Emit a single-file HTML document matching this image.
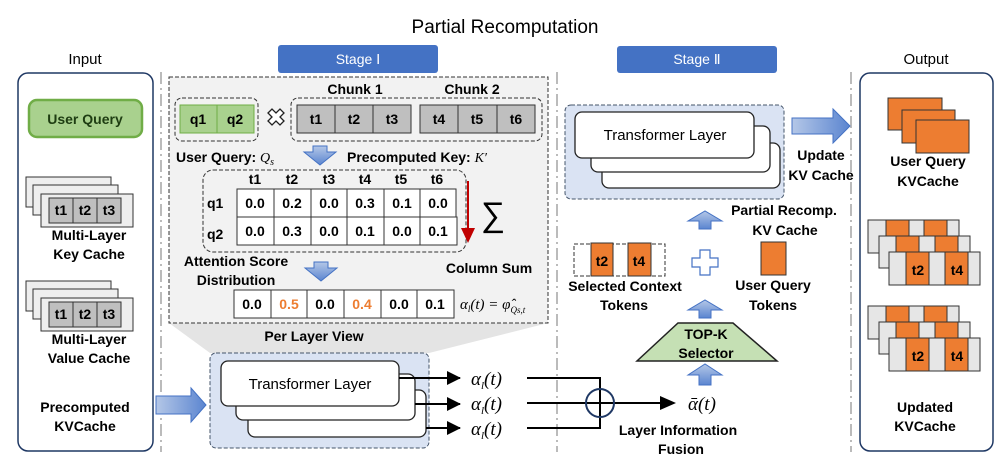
<!DOCTYPE html>
<html><head><meta charset="utf-8"><style>
body{margin:0;background:#fff}
svg{display:block}
text{font-family:"Liberation Sans",sans-serif}
.b{font-weight:bold;font-size:14px}
.c{text-anchor:middle}
.m{font-family:"Liberation Serif",serif;font-style:italic}
</style></head><body>
<svg width="996" height="476" viewBox="0 0 996 476" xmlns="http://www.w3.org/2000/svg">
<defs>
<linearGradient id="ba" x1="0" x2="1"><stop offset="0" stop-color="#b4c7e7"/><stop offset="1" stop-color="#5b85d0"/></linearGradient>
<linearGradient id="bd" x1="0" y1="0" x2="0" y2="1"><stop offset="0" stop-color="#b4c7e7"/><stop offset="1" stop-color="#5b85d0"/></linearGradient>
<marker id="ah" markerWidth="14" markerHeight="14" refX="13" refY="7" orient="auto" markerUnits="userSpaceOnUse"><path d="M0,0 L14,7 L0,14z" fill="#000"/></marker>
</defs>
<text x="505" y="33" class="c" font-size="19">Partial Recomputation</text>
<rect x="278" y="45" width="160" height="28" rx="3" fill="#4472c4"/>
<text x="358" y="64" class="c" font-size="14" fill="#fff">Stage Ⅰ</text>
<rect x="617" y="46" width="160" height="27" rx="3" fill="#4472c4"/>
<text x="697" y="64" class="c" font-size="14" fill="#fff">Stage Ⅱ</text>
<text x="85" y="64" class="c" font-size="15">Input</text>
<text x="926" y="64" class="c" font-size="15">Output</text>
<line x1="161" y1="72" x2="161" y2="452" stroke="#bbb" stroke-width="2" stroke-dasharray="12,4,2,4"/>
<line x1="557" y1="72" x2="557" y2="452" stroke="#bbb" stroke-width="2" stroke-dasharray="12,4,2,4"/>
<line x1="851" y1="72" x2="851" y2="452" stroke="#bbb" stroke-width="2" stroke-dasharray="12,4,2,4"/>
<rect x="18" y="73" width="135" height="378" rx="10" fill="#fff" stroke="#1f3864" stroke-width="1.5"/>
<rect x="29" y="100" width="113" height="37" rx="8" fill="#a9d18e" stroke="#70ad47" stroke-width="2.5"/>
<text x="85" y="124" class="b c" fill="#1e3d12">User  Query</text>
<g id="ks">
<rect x="26" y="177" width="85" height="30" fill="#eee" stroke="#333"/>
<rect x="33" y="185" width="85" height="30" fill="#eee" stroke="#333"/>
<rect x="41" y="194" width="92" height="33" fill="#eee" stroke="#333"/>
<rect x="49" y="198" width="24" height="25" fill="#bfbfbf" stroke="#333"/>
<rect x="73" y="198" width="24" height="25" fill="#bfbfbf" stroke="#333"/>
<rect x="97" y="198" width="24" height="25" fill="#bfbfbf" stroke="#333"/>
<text x="61" y="215" class="b c">t1</text><text x="85" y="215" class="b c">t2</text><text x="109" y="215" class="b c">t3</text>
</g>
<use href="#ks" y="104"/>
<text x="89" y="240" class="b c" font-size="15">Multi-Layer</text>
<text x="89" y="259" class="b c" font-size="15">Key Cache</text>
<text x="89" y="344" class="b c" font-size="15">Multi-Layer</text>
<text x="89" y="363" class="b c" font-size="15">Value Cache</text>
<text x="85" y="412" class="b c" font-size="15">Precomputed</text>
<text x="85" y="431" class="b c" font-size="15">KVCache</text>
<path d="M156,396 H191 V388 L206,405 L191,422 V414 H156z" fill="url(#ba)" stroke="#4472c4"/>
<path d="M169,323 H548 L429,353 H210z" fill="#e4e4e4"/>
<text x="314" y="341" class="b c">Per Layer View</text>
<rect x="169" y="77" width="379" height="246" fill="#f2f2f2" stroke="#333" stroke-dasharray="4,2"/>
<rect x="175" y="98" width="83" height="43" rx="7" fill="none" stroke="#333" stroke-dasharray="4,2"/>
<rect x="180" y="105" width="37" height="28" fill="#a9d18e" stroke="#70ad47"/>
<rect x="217" y="105" width="37" height="28" fill="#a9d18e" stroke="#70ad47"/>
<text x="198" y="124" class="b c">q1</text><text x="235" y="124" class="b c">q2</text>
<path d="M268,113 l4,-4 l4,4 l4,-4 l4,4 l-4,4 l4,4 l-4,4 l-4,-4 l-4,4 l-4,-4 l4,-4z" fill="#fff" stroke="#222" stroke-width="1.3"/>
<rect x="291" y="98" width="251" height="43" rx="7" fill="none" stroke="#333" stroke-dasharray="4,2"/>
<g fill="#bfbfbf" stroke="#333">
<rect x="297" y="105" width="38" height="28"/><rect x="335" y="105" width="38" height="28"/><rect x="373" y="105" width="38" height="28"/>
<rect x="420" y="105" width="38" height="28"/><rect x="458" y="105" width="39" height="28"/><rect x="497" y="105" width="38" height="28"/>
</g>
<text x="316" y="124" class="b c">t1</text><text x="354" y="124" class="b c">t2</text><text x="392" y="124" class="b c">t3</text>
<text x="439" y="124" class="b c">t4</text><text x="477" y="124" class="b c">t5</text><text x="516" y="124" class="b c">t6</text>
<text x="355" y="94" class="b c" font-size="15">Chunk 1</text>
<text x="472" y="94" class="b c" font-size="15">Chunk 2</text>
<text x="176" y="162" class="b" font-size="15">User Query: <tspan class="m" font-weight="normal">Q</tspan><tspan class="m" font-weight="normal" font-size="10" dy="3">s</tspan></text>
<path d="M313,146 h14 v6 h9 l-16,13 l-16,-13 h9z" fill="url(#bd)" stroke="#4472c4"/>
<text x="347" y="162" class="b" font-size="15">Precomputed Key: <tspan class="m" font-weight="normal">K′</tspan></text>
<rect x="203" y="170" width="263" height="82" rx="10" fill="none" stroke="#333" stroke-dasharray="4,2"/>
<text x="255" y="184" class="b c">t1</text><text x="292" y="184" class="b c">t2</text><text x="329" y="184" class="b c">t3</text><text x="365" y="184" class="b c">t4</text><text x="401" y="184" class="b c">t5</text><text x="437" y="184" class="b c">t6</text>
<text x="207" y="208" class="b">q1</text><text x="207" y="239" class="b">q2</text>
<g fill="#fff" stroke="#333">
<rect x="237" y="189" width="37" height="28"/><rect x="274" y="189" width="37" height="28"/><rect x="311" y="189" width="36" height="28"/><rect x="347" y="189" width="37" height="28"/><rect x="384" y="189" width="36" height="28"/><rect x="420" y="189" width="36" height="28"/>
<rect x="237" y="217" width="37" height="28"/><rect x="274" y="217" width="37" height="28"/><rect x="311" y="217" width="36" height="28"/><rect x="347" y="217" width="37" height="28"/><rect x="384" y="217" width="36" height="28"/><rect x="420" y="217" width="37" height="28"/>
</g>
<text x="255" y="208" class="b c">0.0</text><text x="292" y="208" class="b c">0.2</text><text x="329" y="208" class="b c">0.0</text><text x="365" y="208" class="b c">0.3</text><text x="402" y="208" class="b c">0.1</text><text x="438" y="208" class="b c">0.0</text>
<text x="255" y="236" class="b c">0.0</text><text x="292" y="236" class="b c">0.3</text><text x="329" y="236" class="b c">0.0</text><text x="365" y="236" class="b c">0.1</text><text x="402" y="236" class="b c">0.0</text><text x="438" y="236" class="b c">0.1</text>
<line x1="468" y1="181" x2="468" y2="230" stroke="#c00000" stroke-width="2"/>
<path d="M461,228 h14 l-7,15z" fill="#c00000"/>
<text x="493" y="226" class="c" font-size="34" font-family="Liberation Serif">∑</text>
<text x="236" y="266" class="b c" font-size="15">Attention Score</text>
<text x="236" y="285" class="b c" font-size="15">Distribution</text>
<path d="M314,262 h14 v6 h9 l-16,13 l-16,-13 h9z" fill="url(#bd)" stroke="#4472c4"/>
<text x="489" y="273" class="b c" font-size="15">Column Sum</text>
<g fill="#fff" stroke="#333">
<rect x="234" y="290" width="37" height="28"/><rect x="271" y="290" width="36" height="28"/><rect x="307" y="290" width="37" height="28"/><rect x="344" y="290" width="37" height="28"/><rect x="381" y="290" width="36" height="28"/><rect x="417" y="290" width="37" height="28"/>
</g>
<text x="252" y="309" class="b c">0.0</text><text x="289" y="309" class="b c" fill="#ed7d31">0.5</text><text x="325" y="309" class="b c">0.0</text><text x="362" y="309" class="b c" fill="#ed7d31">0.4</text><text x="399" y="309" class="b c">0.0</text><text x="435" y="309" class="b c">0.1</text>
<text x="460" y="309" font-size="15" class="m">α<tspan font-size="9" dy="3">l</tspan><tspan dy="-3">(t) = φ̂</tspan><tspan font-size="9" dy="4">Qs,t</tspan></text>
<rect x="210" y="353" width="219" height="95" rx="6" fill="#dae3f3" stroke="#44546a" stroke-dasharray="4,2"/>
<rect x="248" y="390" width="178" height="47" rx="7" fill="#fff" stroke="#222" stroke-width="1.3"/>
<rect x="236" y="374" width="179" height="46" rx="7" fill="#fff" stroke="#222" stroke-width="1.3"/>
<rect x="221" y="361" width="178" height="45" rx="7" fill="#fff" stroke="#222" stroke-width="1.3"/>
<text x="310" y="389" class="c" font-size="15">Transformer Layer</text>
<g stroke="#000" stroke-width="2">
<line x1="399" y1="378" x2="460" y2="378" marker-end="url(#ah)"/>
<line x1="415" y1="404" x2="460" y2="404" marker-end="url(#ah)"/>
<line x1="426" y1="428" x2="460" y2="428" marker-end="url(#ah)"/>
<path d="M527,378 H600 V428 H527 M527,403 H670" fill="none"/>
</g>
<path d="M660,396 L676,403 L660,410z" fill="#000"/>
<circle cx="600" cy="403" r="14" fill="none" stroke="#1f3864" stroke-width="2"/>
<text x="471" y="385" font-size="19" class="m">α<tspan font-size="11" dy="4">l</tspan><tspan dy="-4">(t)</tspan></text>
<text x="471" y="410" font-size="19" class="m">α<tspan font-size="11" dy="4">l</tspan><tspan dy="-4">(t)</tspan></text>
<text x="471" y="435" font-size="19" class="m">α<tspan font-size="11" dy="4">l</tspan><tspan dy="-4">(t)</tspan></text>
<text x="688" y="410" font-size="19" class="m">ᾱ(t)</text>
<text x="678" y="435" class="b c" font-size="15">Layer Information</text>
<text x="681" y="454" class="b c" font-size="15">Fusion</text>
<g fill="url(#bd)" stroke="#4472c4">
<path d="M699,385 v-10 h-11 l17,-11 l17,11 h-11 v10z"/>
<path d="M699,318 v-8 h-11 l17,-10 l17,10 h-11 v8z"/>
<path d="M699,229 v-8 h-11 l17,-10 l17,10 h-11 v8z"/>
</g>
<path d="M678,323 H733 L777,361 H637z" fill="#c5e0b4" stroke="#222" stroke-width="1.5"/>
<text x="706" y="339" class="b c" font-size="15">TOP-K</text>
<text x="706" y="358" class="b c" font-size="15">Selector</text>
<rect x="574" y="244" width="91" height="32" fill="none" stroke="#333" stroke-dasharray="4,2"/>
<rect x="591" y="243" width="22" height="33" fill="#ed7d31" stroke="#333"/>
<rect x="628" y="243" width="23" height="33" fill="#ed7d31" stroke="#333"/>
<text x="602" y="266" class="b c" font-size="15">t2</text><text x="639" y="266" class="b c" font-size="15">t4</text>
<text x="625" y="291" class="b c" font-size="15">Selected Context</text>
<text x="624" y="310" class="b c" font-size="15">Tokens</text>
<path d="M700,250 h10 v8 h8 v9 h-8 v8 h-10 v-8 h-8 v-9 h8z" fill="#fff" stroke="#4472c4" stroke-width="1.2"/>
<rect x="761" y="242" width="25" height="33" fill="#ed7d31" stroke="#333"/>
<text x="773" y="290" class="b c" font-size="15">User Query</text>
<text x="773" y="310" class="b c" font-size="15">Tokens</text>
<text x="784" y="215" class="b c" font-size="15">Partial Recomp.</text>
<text x="785" y="235" class="b c" font-size="15">KV Cache</text>
<rect x="565" y="105" width="219" height="94" rx="6" fill="#dae3f3" stroke="#44546a" stroke-dasharray="4,2"/>
<rect x="602" y="143" width="178" height="45" rx="7" fill="#fff" stroke="#222" stroke-width="1.3"/>
<rect x="591" y="126" width="179" height="46" rx="7" fill="#fff" stroke="#222" stroke-width="1.3"/>
<rect x="575" y="112" width="179" height="46" rx="7" fill="#fff" stroke="#222" stroke-width="1.3"/>
<text x="665" y="140" class="c" font-size="15">Transformer Layer</text>
<path d="M792,118 H833 V109 L850,126 L833,143 V134 H792z" fill="url(#ba)" stroke="#4472c4"/>
<text x="821" y="160" class="b c" font-size="15">Update</text>
<text x="821" y="180" class="b c" font-size="15">KV Cache</text>
<rect x="860" y="73" width="133" height="378" rx="10" fill="#fff" stroke="#1f3864" stroke-width="1.5"/>
<g fill="#ed7d31" stroke="#333">
<rect x="888" y="98" width="54" height="32"/><rect x="902" y="110" width="53" height="33"/><rect x="916" y="120" width="53" height="33"/>
</g>
<text x="928" y="166" class="b c" font-size="15">User Query</text>
<text x="928" y="186" class="b c" font-size="15">KVCache</text>
<g id="us" stroke="#333">
<rect x="868" y="220" width="91" height="33" fill="#e6e6e6"/>
<rect x="886" y="220" width="23" height="33" fill="#ed7d31"/><rect x="924" y="220" width="23" height="33" fill="#ed7d31"/>
<rect x="879" y="236" width="91" height="32" fill="#e6e6e6"/>
<rect x="896" y="236" width="23" height="32" fill="#ed7d31"/><rect x="935" y="236" width="23" height="32" fill="#ed7d31"/>
<rect x="889" y="252" width="91" height="33" fill="#e6e6e6"/>
<rect x="906" y="252" width="23" height="33" fill="#ed7d31"/><rect x="945" y="252" width="23" height="33" fill="#ed7d31"/>
<text x="918" y="275" class="b c" font-size="15" stroke="none">t2</text><text x="957" y="275" class="b c" font-size="15" stroke="none">t4</text>
</g>
<use href="#us" y="86"/>
<text x="925" y="412" class="b c" font-size="15">Updated</text>
<text x="925" y="431" class="b c" font-size="15">KVCache</text>
</svg>
</body></html>
